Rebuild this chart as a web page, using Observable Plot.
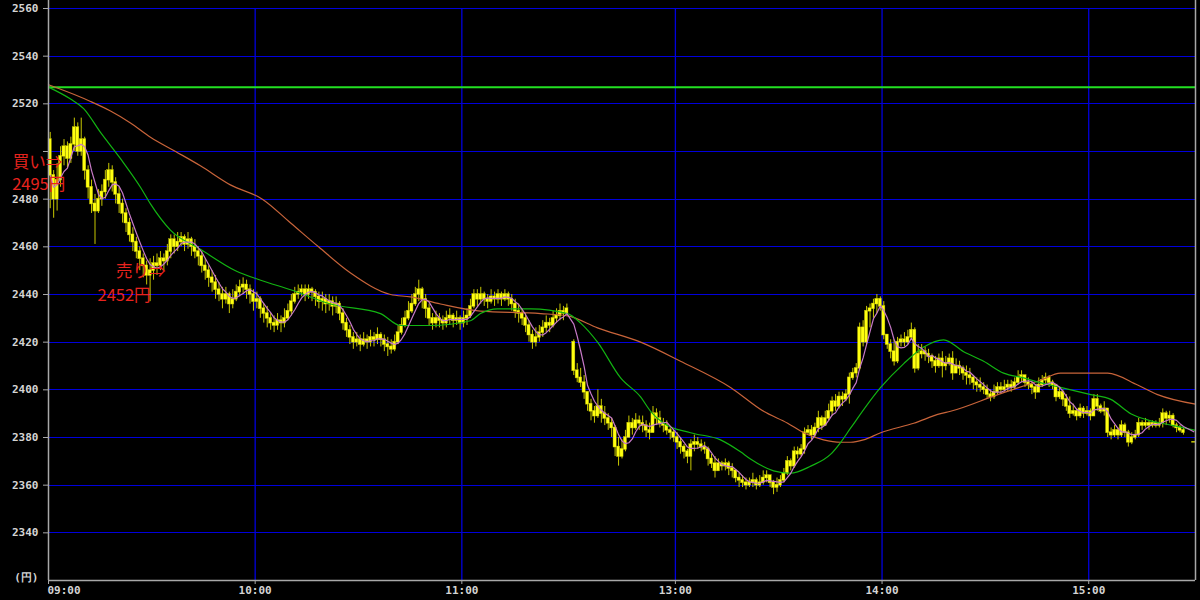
<!DOCTYPE html>
<html><head><meta charset="utf-8">
<script src="https://cdn.jsdelivr.net/npm/d3@7"></script>
<script src="https://cdn.jsdelivr.net/npm/@observablehq/plot@0.6"></script>
<style>
html,body{margin:0;padding:0;background:#000;}
#chart svg{display:block;}
</style></head><body><div id="chart"></div>
<script>
// ---- time axis (minute slots; lunch break compressed) ----
const hourSlots = [0, 60, 120, 182, 242, 302];
const hourLabels = ["09:00", "10:00", "11:00", "13:00", "14:00", "15:00"];
const pmStartSlot = 152;   // 12:30
const lastSlot = 333;
const yTicks = [2340, 2360, 2380, 2400, 2420, 2440, 2460, 2480, 2500, 2520, 2540, 2560];
const yLabelTicks = [2340, 2360, 2380, 2400, 2420, 2440, 2460, 2480, 2520, 2540, 2560]; // 2500 is hidden behind the buy note
const prevClose = [2527];

// ---- morning 1-minute candles (09:00-11:30) ----
const amOpen = [2505,2490,2480,2488,2498,2502,2497,2503,2510,2500,
2505,2492,2485,2478,2475,2480,2483,2488,2492,2487,
2482,2478,2474,2470,2465,2462,2458,2455,2452,2448,
2450,2453,2452,2455,2454,2458,2463,2460,2462,2464,
2461,2463,2460,2458,2456,2452,2450,2447,2445,2442,
2440,2438,2440,2436,2438,2441,2443,2444,2442,2440,
2437,2438,2434,2432,2430,2428,2427,2429,2428,2430,
2433,2437,2440,2441,2442,2440,2442,2441,2439,2437,
2438,2436,2437,2435,2436,2432,2428,2425,2422,2420,
2421,2419,2421,2420,2422,2421,2423,2421,2419,2418,
2417,2420,2424,2427,2430,2433,2436,2440,2442,2438,
2434,2430,2428,2430,2429,2428,2430,2431,2429,2430,
2428,2430,2431,2435,2440,2438,2440,2438,2437,2439,
2438,2440,2438,2440,2438,2436,2433,2432,2430,2427,
2423,2420,2422,2424,2426,2428,2427,2430,2431,2433,
2432];
const amHigh = [2508,2492,2495,2502,2505,2504,2506,2514,2512,2514,
2506,2494,2488,2482,2484,2486,2492,2495,2494,2489,
2485,2480,2476,2472,2468,2464,2460,2457,2454,2455,
2456,2457,2458,2457,2461,2465,2465,2466,2466,2465,
2466,2464,2463,2460,2458,2455,2452,2450,2448,2445,
2443,2443,2441,2442,2444,2446,2447,2446,2444,2442,
2441,2439,2436,2435,2432,2431,2432,2431,2434,2436,
2440,2443,2444,2444,2444,2444,2443,2442,2441,2441,
2440,2440,2439,2439,2437,2434,2430,2427,2424,2424,
2423,2424,2423,2425,2424,2426,2424,2423,2422,2421,
2423,2427,2430,2433,2437,2440,2443,2446,2443,2440,
2436,2432,2433,2432,2431,2433,2434,2432,2433,2431,
2433,2434,2438,2442,2442,2443,2441,2440,2442,2441,
2442,2441,2442,2441,2440,2438,2436,2434,2432,2429,
2425,2426,2427,2429,2431,2430,2433,2434,2436,2435,
2436];
const amLow = [2476,2472,2475,2485,2494,2493,2495,2500,2498,2498,
2488,2480,2474,2461,2474,2477,2480,2485,2483,2478,
2474,2470,2466,2462,2458,2455,2450,2447,2444,2437,
2446,2448,2450,2450,2452,2455,2457,2458,2460,2458,
2459,2456,2455,2452,2449,2446,2443,2441,2438,2437,
2434,2436,2432,2434,2437,2439,2440,2438,2436,2433,
2434,2430,2428,2426,2425,2424,2425,2424,2426,2429,
2431,2436,2438,2439,2437,2438,2437,2435,2434,2433,
2432,2433,2431,2432,2429,2425,2422,2419,2417,2418,
2416,2418,2417,2418,2418,2419,2418,2416,2414,2415,
2416,2419,2423,2426,2429,2432,2435,2437,2434,2430,
2427,2425,2426,2426,2425,2426,2427,2426,2427,2425,
2426,2427,2430,2434,2435,2436,2435,2434,2436,2435,
2436,2435,2437,2435,2433,2430,2428,2427,2424,2420,
2417,2418,2420,2422,2424,2424,2426,2428,2429,2429,
2431];
const amClose = [2490,2480,2488,2498,2502,2497,2503,2510,2500,2505,
2492,2485,2478,2475,2480,2483,2488,2492,2487,2482,
2478,2474,2470,2465,2462,2458,2455,2452,2448,2450,
2453,2452,2455,2454,2458,2463,2460,2462,2464,2461,
2463,2460,2458,2456,2452,2450,2447,2445,2442,2440,
2438,2440,2436,2438,2441,2443,2444,2442,2440,2437,
2438,2434,2432,2430,2428,2427,2429,2428,2430,2433,
2437,2440,2441,2442,2440,2442,2441,2439,2437,2438,
2436,2437,2435,2436,2432,2428,2425,2422,2420,2421,
2419,2421,2420,2422,2421,2423,2421,2419,2418,2417,
2420,2424,2427,2430,2433,2436,2440,2442,2438,2434,
2430,2428,2430,2429,2428,2430,2431,2429,2430,2428,
2430,2431,2435,2440,2438,2440,2438,2437,2439,2438,
2440,2438,2440,2438,2436,2433,2432,2430,2427,2423,
2420,2422,2424,2426,2428,2427,2430,2431,2433,2432,
2434];

// ---- afternoon 1-minute candles (12:30-15:30) ----
const pmOpen = [2420,2408,2405,2403,2399,2394,2391,2389,2393,2390,
2388,2386,2384,2376,2372,2375,2380,2386,2384,2387,
2386,2385,2383,2382,2390,2388,2386,2385,2383,2382,
2380,2378,2376,2374,2372,2377,2378,2377,2376,2375,
2371,2369,2366,2369,2368,2369,2367,2366,2363,2362,
2361,2360,2361,2362,2360,2361,2363,2364,2361,2359,
2360,2362,2365,2370,2368,2374,2373,2375,2382,2383,
2381,2384,2388,2385,2388,2391,2395,2393,2397,2396,
2398,2405,2407,2409,2426,2420,2433,2434,2436,2438,
2435,2423,2419,2416,2412,2420,2421,2420,2422,2425,
2409,2415,2416,2415,2414,2412,2410,2413,2410,2411,
2413,2407,2410,2409,2407,2406,2405,2403,2402,2401,
2400,2398,2397,2399,2401,2400,2401,2402,2401,2403,
2405,2406,2403,2402,2401,2399,2402,2404,2405,2403,
2402,2397,2399,2396,2393,2390,2391,2389,2392,2390,
2391,2389,2396,2393,2391,2392,2382,2381,2383,2381,
2385,2382,2378,2380,2381,2386,2385,2386,2385,2386,
2385,2386,2390,2388,2389,2385,2384,2383,null,null,
2378];
const pmHigh = [2421,2411,2409,2406,2398,2396,2393,2400,2396,2393,
2390,2388,2385,2380,2379,2383,2389,2388,2390,2389,
2389,2387,2386,2393,2392,2391,2388,2387,2384,2383,
2382,2380,2377,2375,2379,2381,2380,2379,2378,2376,
2373,2372,2371,2370,2371,2370,2369,2366,2365,2364,
2363,2363,2365,2363,2364,2366,2366,2364,2362,2363,
2364,2367,2372,2371,2376,2376,2377,2384,2385,2385,
2386,2391,2389,2391,2394,2397,2398,2399,2399,2400,
2407,2409,2411,2428,2429,2435,2436,2438,2440,2439,
2437,2423,2421,2421,2422,2423,2424,2425,2428,2426,
2419,2419,2418,2417,2415,2414,2415,2416,2414,2415,
2416,2413,2412,2410,2410,2409,2406,2405,2405,2403,
2402,2400,2402,2403,2403,2404,2404,2404,2405,2408,
2408,2406,2405,2403,2402,2405,2406,2407,2406,2404,
2402,2401,2400,2398,2397,2394,2392,2394,2393,2393,
2392,2398,2398,2394,2395,2392,2384,2385,2384,2387,
2386,2383,2382,2383,2388,2387,2388,2387,2387,2387,
2388,2392,2391,2391,2390,2386,2385,2384,null,null,
2378];
const pmLow = [2406,2403,2401,2396,2391,2387,2386,2388,2386,2385,
2383,2380,2372,2368,2371,2374,2380,2381,2383,2383,
2382,2380,2379,2382,2385,2384,2382,2381,2379,2378,
2375,2373,2371,2369,2366,2374,2375,2374,2373,2368,
2367,2363,2366,2366,2366,2364,2363,2361,2359,2359,
2358,2359,2359,2358,2359,2360,2361,2359,2356,2357,
2359,2361,2364,2366,2367,2371,2372,2373,2381,2379,
2380,2382,2383,2385,2387,2389,2391,2392,2393,2395,
2394,2404,2405,2408,2418,2419,2426,2430,2432,2433,
2421,2417,2413,2410,2411,2418,2418,2419,2421,2407,
2408,2413,2412,2411,2409,2407,2409,2405,2408,2410,
2404,2407,2406,2404,2402,2402,2400,2399,2399,2398,
2396,2395,2396,2398,2398,2399,2399,2399,2400,2402,
2403,2401,2400,2398,2396,2399,2401,2402,2401,2400,
2395,2396,2393,2391,2388,2389,2387,2388,2388,2389,
2387,2389,2391,2390,2389,2380,2379,2380,2379,2380,
2380,2376,2377,2379,2380,2383,2384,2383,2384,2384,
2384,2384,2385,2386,2384,2382,2382,2381,null,null,
2378];
const pmClose = [2408,2405,2403,2399,2394,2391,2389,2393,2390,2388,
2386,2384,2376,2372,2375,2380,2386,2384,2387,2386,
2385,2383,2382,2390,2388,2386,2385,2383,2382,2380,
2378,2376,2374,2372,2377,2378,2377,2376,2375,2371,
2369,2366,2369,2368,2369,2367,2366,2363,2362,2361,
2360,2361,2362,2360,2361,2363,2364,2361,2359,2360,
2362,2365,2370,2368,2374,2373,2375,2382,2383,2381,
2384,2388,2385,2388,2391,2395,2393,2397,2396,2398,
2405,2407,2409,2426,2420,2433,2434,2436,2438,2435,
2423,2419,2416,2412,2420,2421,2420,2422,2425,2409,
2415,2416,2415,2414,2412,2410,2413,2410,2411,2413,
2407,2410,2409,2407,2406,2405,2403,2402,2401,2400,
2398,2397,2399,2401,2400,2401,2402,2401,2403,2405,
2406,2403,2402,2401,2399,2402,2404,2405,2403,2402,
2397,2399,2396,2393,2390,2391,2389,2392,2390,2391,
2389,2396,2393,2391,2392,2382,2381,2383,2381,2385,
2382,2378,2380,2381,2386,2385,2386,2385,2386,2385,
2386,2390,2388,2389,2385,2384,2383,2382,null,null,
2378];

// ---- moving averages (25 and 75 period) ----
const ma25Slot = [0,6.4,10.2,15.1,20.9,26.7,29.6,35.4,44.1,54.3,61.6,70.3,81.9,96.4,102.2,110.9,122.5,125.4,130.4,140,150.7,154.5,159.4,166.1,171.9,174.8,178.6,186.4,195.1,200.9,203.8,210.5,215.4,221.3,227.1,230,232.9,241.6,248.3,254.1,259.9,265.7,271.5,277.3,283.1,288,293.8,302.6,308.4,314.2,320,326.7,333];
const ma25Value = [2527,2522,2518,2508,2497,2485,2478,2467,2459,2450,2446,2442,2436,2432,2427,2427,2429,2432,2434,2434,2432,2428,2420,2405,2397,2391,2386,2382,2379,2374,2371,2366,2365,2368,2373,2378,2384,2401,2411,2418,2421,2416,2412,2407,2405,2403,2401,2398,2396,2390,2387,2385,2383];
const ma75Slot = [0,7.3,12.2,18,23.8,29.6,36.9,44.1,52.8,62.1,70.3,78.4,87.7,99.3,105.1,113.8,125.4,142.9,150.7,159.4,171.9,183.5,198,207.6,214.6,219.2,225,230,232.9,236.6,241.6,251.2,259,261.9,275.6,288,293.8,297.6,307.5,316.2,322,333];
const ma75Value = [2528,2524,2521,2517,2512,2506,2500,2494,2486,2480,2470,2460,2449,2440,2439,2436,2433,2432,2431,2426,2420,2412,2401,2391,2386,2382,2379,2378,2378,2379,2382,2386,2390,2391,2398,2404,2407,2407,2407,2402,2398,2394];

// ---- trade signals ----
const signalSlot = [4, 34];
const signalPrice = [2495, 2452];
const signalLabel = ["買い", "売り"];

// ---- build tables ----
const candles = [];
amClose.forEach((c, i) => candles.push({slot: i + 0.5, open: amOpen[i], high: amHigh[i], low: amLow[i], close: c}));
pmClose.forEach((c, j) => { if (c != null) candles.push({slot: pmStartSlot + j + 0.5, open: pmOpen[j], high: pmHigh[j], low: pmLow[j], close: c}); });
const ma25 = ma25Slot.map((s, i) => ({slot: s, v: ma25Value[i]}));
const ma75 = ma75Slot.map((s, i) => ({slot: s, v: ma75Value[i]}));
const hours = hourSlots.map((s, i) => ({slot: s, label: hourLabels[i]}));
const signals = signalSlot.map((s, i) => ({slot: s, price: signalPrice[i], l1: signalLabel[i] + "⇒", l2: signalPrice[i] + "円"}));

const GRID = "#0000dc", AXIS = "#a8a8a8", LABEL = "#d4d4d4";
const labelFont = {fontFamily: "DejaVu Sans Mono", fontWeight: "bold", fontSize: 11, fill: LABEL};
const redFont = {fontFamily: "Noto Sans CJK JP", fontSize: 16.5, fill: "#e8231e", lineAnchor: "middle"};

const chart = Plot.plot({
  width: 1200, height: 600,
  marginLeft: 48, marginRight: 5, marginTop: 8, marginBottom: 20,
  style: {background: "#000", overflow: "visible"},
  x: {domain: [0, lastSlot], axis: null},
  y: {domain: [2320, 2560], axis: null},
  marks: [
    Plot.ruleY(yTicks, {stroke: GRID, strokeWidth: 1, shapeRendering: "crispEdges"}),
    Plot.ruleX(hourSlots.slice(1), {stroke: GRID, strokeWidth: 1.3}),
    Plot.ruleY(prevClose, {stroke: "#22e022", strokeWidth: 2}),
    // candles
    Plot.ruleX(candles, {x: "slot", y1: "low", y2: "high", stroke: "#c8c800", strokeWidth: 1}),
    Plot.rect(candles, {x1: d => d.slot - 0.46, x2: d => d.slot + 0.46, y1: "open", y2: "close",
      fill: "#ffff10", stroke: "#b4b400", strokeWidth: 0.4, insetTop: -0.5, insetBottom: -0.5}),
    // moving averages
    Plot.line(ma75, {x: "slot", y: "v", stroke: "#c8643a", strokeWidth: 1.2, curve: "monotone-x"}),
    Plot.line(ma25, {x: "slot", y: "v", stroke: "#12b412", strokeWidth: 1.2, curve: "monotone-x"}),
    Plot.lineY(candles, Plot.windowY({k: 5, anchor: "end"}, {x: "slot", y: "close", stroke: "#c87ac8", strokeWidth: 1.2})),
    // frame
    Plot.ruleX([0], {stroke: AXIS, strokeWidth: 1.5, insetTop: -8}),
    Plot.ruleX([lastSlot], {stroke: AXIS, strokeWidth: 1.5, insetTop: -8}),
    Plot.ruleY([2320], {stroke: AXIS, strokeWidth: 1.5}),
    // axes
    Plot.axisY({ticks: yTicks, tickSize: 5, tickFormat: () => "", stroke: AXIS}),
    Plot.text(yLabelTicks, {y: d => d, text: d => String(d), frameAnchor: "left", textAnchor: "end", dx: -10, ...labelFont}),
    Plot.axisX({ticks: hourSlots, tickSize: 4, tickFormat: () => "", stroke: AXIS}),
    Plot.text(hours.slice(0, 1), {x: "slot", text: "label", frameAnchor: "bottom", textAnchor: "start", dy: 13, dx: -1, ...labelFont}),
    Plot.text(hours.slice(1), {x: "slot", text: "label", frameAnchor: "bottom", dy: 13, ...labelFont}),
    Plot.text(["(円)"], {frameAnchor: "bottom-left", textAnchor: "end", dx: -10, ...labelFont}),
    // signals
    Plot.text(signals.slice(0, 1), {x: "slot", y: "price", text: "l1", textAnchor: "end", dy: -1, ...redFont}),
    Plot.text(signals.slice(0, 1), {x: "slot", y: "price", text: "l2", textAnchor: "end", dx: 3, dy: 21, ...redFont}),
    Plot.text(signals.slice(1), {x: "slot", y: "price", text: "l1", textAnchor: "end", dy: 6, ...redFont}),
    Plot.text(signals.slice(1), {x: "slot", y: "price", text: "l2", textAnchor: "end", dx: -15, dy: 30, ...redFont})
  ]
});
document.getElementById("chart").appendChild(chart);
</script>
</body></html>
